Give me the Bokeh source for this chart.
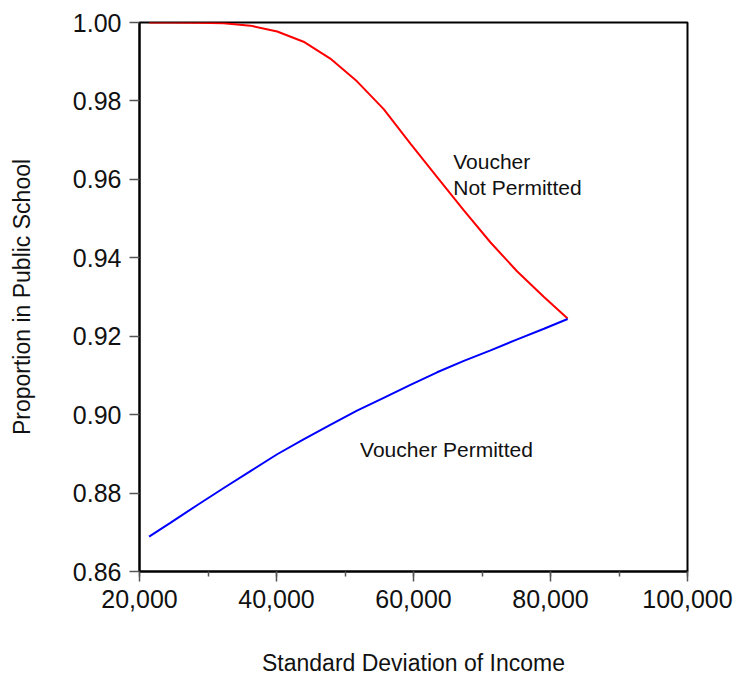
from bokeh.plotting import figure
from bokeh.models import Range1d, SingleIntervalTicker, FixedTicker, NumeralTickFormatter, Label
from bokeh.embed import file_html
from bokeh.resources import INLINE

# Standard deviation of income
sd_income = [21400, 24500, 28400, 32300, 36200, 40100, 43950, 47850, 51750,
             55650, 59550, 63450, 67350, 71250, 75150, 79050, 82500]
# Proportion in public school, voucher not permitted
not_permitted = [1.0000, 1.0000, 0.99995, 0.9998, 0.9992, 0.9977, 0.9951, 0.9908, 0.9850,
                 0.9779, 0.9691, 0.9606, 0.9521, 0.9439, 0.9365, 0.9300, 0.9245]
# Proportion in public school, voucher permitted
permitted = [0.8689, 0.8724, 0.8769, 0.8813, 0.8856, 0.8899, 0.8937, 0.8974, 0.9010,
             0.9043, 0.9076, 0.9108, 0.9137, 0.9164, 0.9192, 0.9219, 0.9244]

x_ticks = [20000, 40000, 60000, 80000, 100000]
y_ticks = [0.86, 0.88, 0.90, 0.92, 0.94, 0.96, 0.98, 1.00]

labels_text = ["Voucher", "Not Permitted", "Voucher Permitted"]
labels_x = [65800, 65800, 52200]
labels_y = [0.9645, 0.9579, 0.8910]

FONT = "Liberation Sans"

p = figure(width=737, height=679, output_backend="svg", toolbar_location=None,
           x_range=Range1d(20000, 100000), y_range=Range1d(0.86, 1.00),
           min_border_left=139, min_border_right=50, min_border_top=22, min_border_bottom=108)

p.line(sd_income, not_permitted, line_color="#ff0000", line_width=2)
p.line(sd_income, permitted, line_color="#0000ff", line_width=2)

for t, lx, ly in zip(labels_text, labels_x, labels_y):
    p.add_layout(Label(x=lx, y=ly, text=t, text_font=FONT, text_font_size="21px",
                       text_color="#111111", text_baseline="alphabetic", text_align="left"))

p.grid.visible = False
p.outline_line_color = "black"
p.outline_line_width = 2
p.outline_line_alpha = 1

p.xaxis.ticker = SingleIntervalTicker(interval=20000, num_minor_ticks=2)
p.xaxis.formatter = NumeralTickFormatter(format="0,0")
p.yaxis.ticker = FixedTicker(ticks=y_ticks)
p.yaxis.formatter = NumeralTickFormatter(format="0.00")

for ax in (p.xaxis, p.yaxis):
    ax.axis_line_color = "black"
    ax.axis_line_width = 2
    ax.major_tick_line_color = "#555555"
    ax.major_tick_line_width = 1.5
    ax.minor_tick_line_color = "#555555"
    ax.minor_tick_line_width = 1.5
    ax.major_tick_in = 0
    ax.major_tick_out = 10
    ax.minor_tick_in = 0
    ax.major_label_text_font = FONT
    ax.major_label_text_font_size = "25px"
    ax.major_label_text_color = "#111111"
    ax.major_label_standoff = 8
    ax.axis_label_text_font = FONT
    ax.axis_label_text_font_size = "23px"
    ax.axis_label_text_font_style = "normal"
    ax.axis_label_text_color = "#111111"

p.xaxis.minor_tick_out = 5
p.yaxis.minor_tick_out = 0
p.xaxis.axis_label = "Standard Deviation of Income"
p.yaxis.axis_label = "Proportion in Public School"
p.xaxis.axis_label_standoff = 39
p.yaxis.axis_label_standoff = 35

open("out.html", "w").write(file_html(p, INLINE))
